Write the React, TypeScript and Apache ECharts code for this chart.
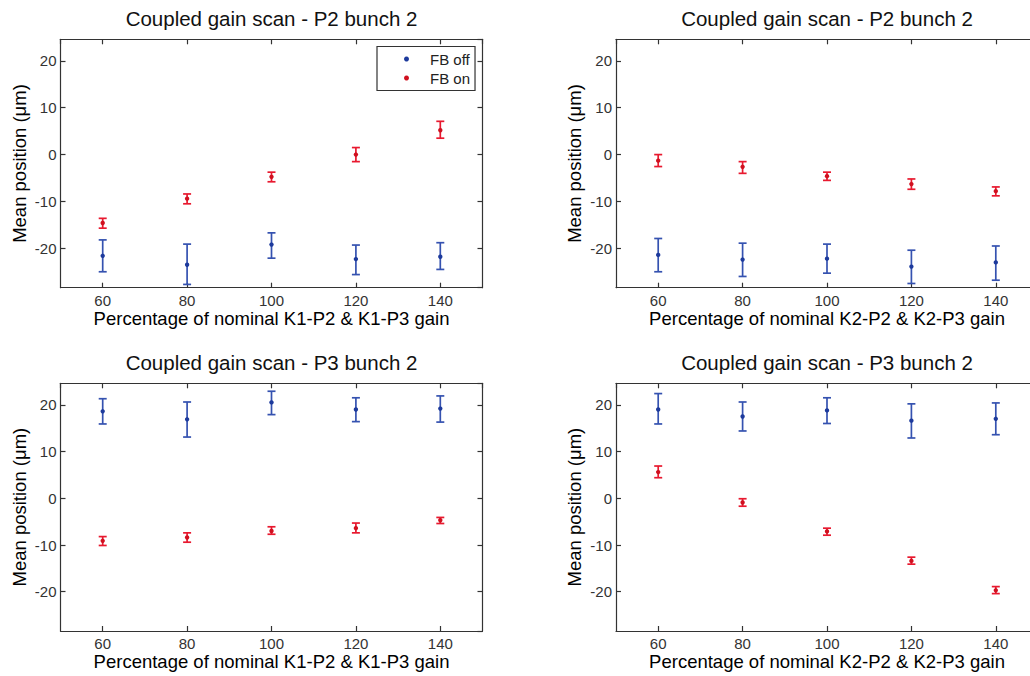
import React, { useEffect, useRef } from 'react';
import * as echarts from 'echarts';

// Percentage of nominal gain (x categories, numeric)
const gains = [60, 80, 100, 120, 140];

// Panel 1: P2 bunch 2, K1 scan
const p1OffMean = [-21.6, -23.5, -19.2, -22.3, -21.8];
const p1OffLow = [-25.0, -27.7, -22.1, -25.6, -24.5];
const p1OffHigh = [-18.2, -19.1, -16.7, -19.3, -18.8];
const p1OnMean = [-14.6, -9.4, -4.75, 0, 5.2];
const p1OnLow = [-15.7, -10.5, -5.8, -1.5, 3.5];
const p1OnHigh = [-13.6, -8.4, -3.75, 1.5, 7.1];

// Panel 2: P2 bunch 2, K2 scan
const p2OffMean = [-21.4, -22.4, -22.2, -23.9, -23.0];
const p2OffLow = [-25.0, -26.0, -25.3, -27.5, -26.8];
const p2OffHigh = [-17.9, -18.9, -19.1, -20.4, -19.5];
const p2OnMean = [-1.3, -2.6, -4.6, -6.3, -7.8];
const p2OnLow = [-2.55, -4.0, -5.5, -7.4, -8.8];
const p2OnHigh = [0, -1.5, -3.75, -5.2, -6.9];

// Panel 3: P3 bunch 2, K1 scan
const p3OffMean = [18.6, 16.9, 20.5, 19.0, 19.2];
const p3OffLow = [15.9, 13.1, 17.9, 16.4, 16.3];
const p3OffHigh = [21.3, 20.6, 22.9, 21.5, 21.9];
const p3OnMean = [-9.1, -8.4, -7.0, -6.4, -4.7];
const p3OnLow = [-10.1, -9.4, -7.7, -7.4, -5.4];
const p3OnHigh = [-8.2, -7.4, -6.1, -5.3, -4.1];

// Panel 4: P3 bunch 2, K2 scan
const p4OffMean = [19.0, 17.5, 18.8, 16.6, 17.0];
const p4OffLow = [15.9, 14.4, 16.0, 12.9, 13.6];
const p4OffHigh = [22.4, 20.6, 21.5, 20.2, 20.4];
const p4OnMean = [5.6, -0.9, -7.1, -13.4, -19.7];
const p4OnLow = [4.4, -1.7, -7.9, -14.1, -20.4];
const p4OnHigh = [6.9, -0.1, -6.4, -12.6, -18.9];

const titles = [
  'Coupled gain scan - P2 bunch 2',
  'Coupled gain scan - P2 bunch 2',
  'Coupled gain scan - P3 bunch 2',
  'Coupled gain scan - P3 bunch 2',
];
const xLabels = [
  'Percentage of nominal K1-P2 & K1-P3 gain',
  'Percentage of nominal K2-P2 & K2-P3 gain',
  'Percentage of nominal K1-P2 & K1-P3 gain',
  'Percentage of nominal K2-P2 & K2-P3 gain',
];
const yLabel = 'Mean position (\u03bcm)';
const seriesNames = ['FB off', 'FB on'];

const X_MIN = 50;
const X_MAX = 150;
const Y_MIN = -28.4;
const Y_MAX = 24.6;

const BLUE = '#3552b0';
const BLUE_DOT = '#1d3a9c';
const RED = '#e8192f';
const RED_DOT = '#d0101f';

const panels = [
  { off: [p1OffMean, p1OffLow, p1OffHigh], on: [p1OnMean, p1OnLow, p1OnHigh] },
  { off: [p2OffMean, p2OffLow, p2OffHigh], on: [p2OnMean, p2OnLow, p2OnHigh] },
  { off: [p3OffMean, p3OffLow, p3OffHigh], on: [p3OnMean, p3OnLow, p3OnHigh] },
  { off: [p4OffMean, p4OffLow, p4OffHigh], on: [p4OnMean, p4OnLow, p4OnHigh] },
];

const gridRects = [
  { left: 60.5, top: 39.3, width: 422, height: 248.4 },
  { left: 616, top: 39.3, width: 422, height: 248.4 },
  { left: 60.5, top: 383.3, width: 422, height: 247.7 },
  { left: 616, top: 383.3, width: 422, height: 247.7 },
];

const FONT = '"Liberation Sans", Arial, Helvetica, sans-serif';

function buildRows(arrs: number[][]) {
  const [mean, low, high] = arrs;
  return gains.map((g, i) => [g, mean[i], low[i], high[i]]);
}

function makeRenderItem(dotColor: string) {
  return (params: any, api: any) => {
    const x = api.value(0);
    const m = api.value(1);
    const lo = api.value(2);
    const hi = api.value(3);
    const pm = api.coord([x, m]);
    const pl = api.coord([x, lo]);
    const ph = api.coord([x, hi]);
    const color = api.visual('color');
    const hw = 4;
    const lw = 1.7;
    return {
      type: 'group',
      children: [
        { type: 'line', shape: { x1: pl[0], y1: pl[1], x2: ph[0], y2: ph[1] }, style: { stroke: color, lineWidth: lw } },
        { type: 'line', shape: { x1: pl[0] - hw, y1: pl[1], x2: pl[0] + hw, y2: pl[1] }, style: { stroke: color, lineWidth: lw } },
        { type: 'line', shape: { x1: ph[0] - hw, y1: ph[1], x2: ph[0] + hw, y2: ph[1] }, style: { stroke: color, lineWidth: lw } },
        { type: 'circle', shape: { cx: pm[0], cy: pm[1], r: 2.2 }, style: { fill: dotColor } },
      ],
    };
  };
}

export default function App() {
  const ref = useRef<HTMLDivElement>(null);

  useEffect(() => {
    if (!ref.current) return;
    const chart = echarts.init(ref.current, null, { renderer: 'svg' });

    const grid: any[] = [];
    const xAxis: any[] = [];
    const yAxis: any[] = [];
    const series: any[] = [];
    const title: any[] = [];

    const axisLineStyle = { color: '#333', width: 1.2 };

    gridRects.forEach((r, i) => {
      grid.push({ ...r, containLabel: false });
      title.push({
        text: titles[i],
        left: r.left + r.width / 2,
        top: r.top - 31,
        textAlign: 'center',
        padding: 0,
        textStyle: { fontFamily: FONT, fontSize: 20.5, fontWeight: 'normal', color: '#111' },
      });
      // bottom x axis
      xAxis.push({
        type: 'value',
        gridIndex: i,
        position: 'bottom',
        min: X_MIN,
        max: X_MAX,
        splitNumber: 5,
        name: xLabels[i],
        nameLocation: 'middle',
        nameGap: 21,
        nameTextStyle: { fontFamily: FONT, fontSize: 18.5, color: '#000' },
        axisLine: { show: true, onZero: false, lineStyle: axisLineStyle },
        axisTick: { show: true, inside: true, length: 5, lineStyle: axisLineStyle },
        axisLabel: { show: true, showMinLabel: false, showMaxLabel: false, margin: 5, fontFamily: FONT, fontSize: 15, color: '#333' },
        splitLine: { show: false },
      });
      // top x axis (ticks only)
      xAxis.push({
        type: 'value',
        gridIndex: i,
        position: 'top',
        min: X_MIN,
        max: X_MAX,
        splitNumber: 5,
        axisLine: { show: true, onZero: false, lineStyle: axisLineStyle },
        axisTick: { show: true, inside: true, length: 5, lineStyle: axisLineStyle },
        axisLabel: { show: false },
        splitLine: { show: false },
      });
      // left y axis
      yAxis.push({
        type: 'value',
        gridIndex: i,
        position: 'left',
        min: Y_MIN,
        max: Y_MAX,
        splitNumber: 5,
        name: yLabel,
        nameLocation: 'middle',
        nameGap: 32,
        nameTextStyle: { fontFamily: FONT, fontSize: 18.5, color: '#000' },
        axisLine: { show: true, onZero: false, lineStyle: axisLineStyle },
        axisTick: { show: true, inside: true, length: 5, lineStyle: axisLineStyle },
        axisLabel: { show: true, showMinLabel: false, showMaxLabel: false, margin: 4, fontFamily: FONT, fontSize: 15, color: '#333' },
        splitLine: { show: false },
      });
      // right y axis (ticks only)
      yAxis.push({
        type: 'value',
        gridIndex: i,
        position: 'right',
        min: Y_MIN,
        max: Y_MAX,
        splitNumber: 5,
        axisLine: { show: true, onZero: false, lineStyle: axisLineStyle },
        axisTick: { show: true, inside: true, length: 5, lineStyle: axisLineStyle },
        axisLabel: { show: false },
        splitLine: { show: false },
      });

      const p = panels[i];
      series.push({
        type: 'custom',
        name: seriesNames[0],
        xAxisIndex: 2 * i,
        yAxisIndex: 2 * i,
        itemStyle: { color: BLUE },
        encode: { x: 0, y: 1 },
        renderItem: makeRenderItem(BLUE_DOT),
        data: buildRows(p.off),
        clip: false,
      });
      series.push({
        type: 'custom',
        name: seriesNames[1],
        xAxisIndex: 2 * i,
        yAxisIndex: 2 * i,
        itemStyle: { color: RED },
        encode: { x: 0, y: 1 },
        renderItem: makeRenderItem(RED_DOT),
        data: buildRows(p.on),
        clip: false,
      });
    });

    chart.setOption({
      animation: false,
      backgroundColor: '#ffffff',
      title,
      legend: {
        show: true,
        orient: 'vertical',
        left: 377,
        top: 46.5,
        selectedMode: false,
        backgroundColor: '#ffffff',
        borderColor: '#333',
        borderWidth: 1.2,
        borderRadius: 0,
        padding: [5, 5, 5, 27],
        itemGap: 4,
        itemWidth: 5,
        itemHeight: 5,
        data: [
          { name: seriesNames[0], icon: 'circle', itemStyle: { color: BLUE_DOT } },
          { name: seriesNames[1], icon: 'circle', itemStyle: { color: RED_DOT } },
        ],
        textStyle: { fontFamily: FONT, fontSize: 15, color: '#222', padding: [0, 0, 0, 16] },
      },
      grid,
      xAxis,
      yAxis,
      series,
    });

    return () => {
      chart.dispose();
    };
  }, []);

  return (
    <div
      style={{
        position: 'fixed',
        left: 0,
        top: 0,
        width: 1030,
        height: 676,
        overflow: 'hidden',
        background: '#fff',
      }}
    >
      <div ref={ref} style={{ width: 1060, height: 676 }} />
    </div>
  );
}
